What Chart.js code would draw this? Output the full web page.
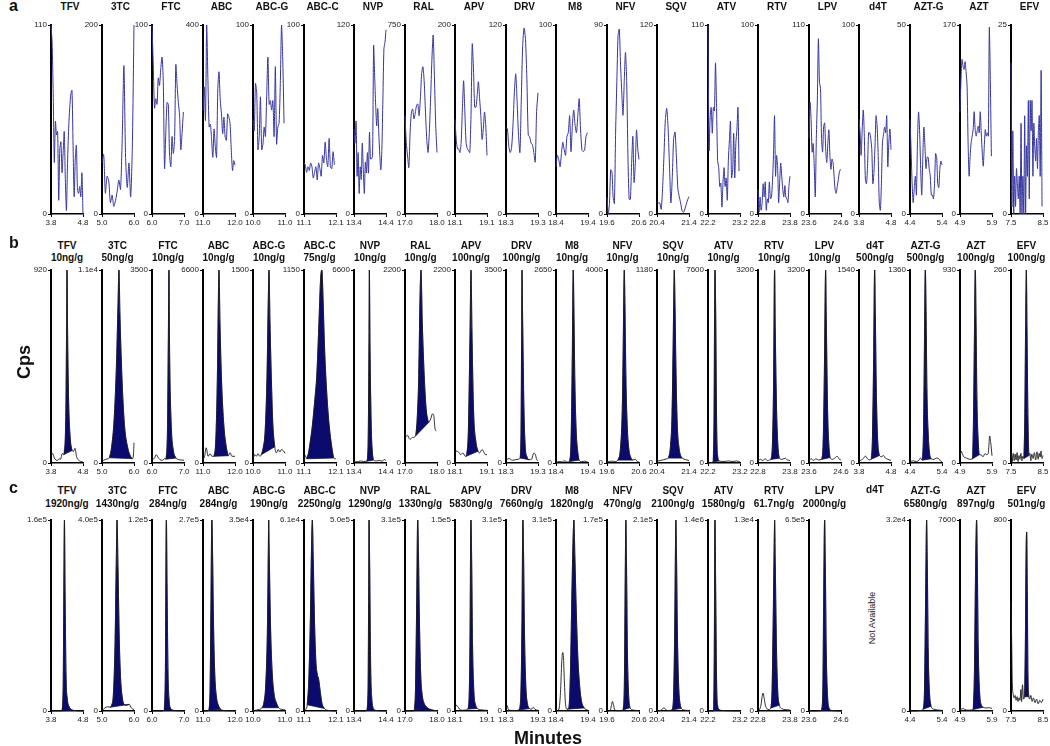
<!DOCTYPE html>
<html>
<head>
<meta charset="utf-8">
<script src="https://cdn.jsdelivr.net/npm/chart.js@4.4.1/dist/chart.umd.min.js"></script>
<style>
body { margin: 0; background: #fff; }
#fig { position: relative; width: 1050px; height: 746px; overflow: hidden; font-family: 'Liberation Sans', Arial, sans-serif; color: #111; }
#fig canvas { position: absolute; }
.tit { position: absolute; font-weight: bold; font-size: 10px; line-height: 12px; text-align: center; white-space: nowrap; transform: translateX(-50%); }
.letra { position: absolute; font-weight: bold; font-size: 16px; }
.eixo { position: absolute; font-weight: bold; font-size: 18px; white-space: nowrap; }
.na { position: absolute; font-size: 9px; white-space: nowrap; color: #222; transform: translate(-50%, -50%) rotate(-90deg); }
</style>
</head>
<body>
<div id="fig"></div>
<script>
// ------------ Dados ------------ //

var compostos = ['TFV', '3TC', 'FTC', 'ABC', 'ABC-G', 'ABC-C', 'NVP', 'RAL', 'APV', 'DRV',
                 'M8', 'NFV', 'SQV', 'ATV', 'RTV', 'LPV', 'd4T', 'AZT-G', 'AZT', 'EFV'];
var xInicio = [3.8, 5.0, 6.0, 11.0, 10.0, 11.1, 13.4, 17.0, 18.1, 18.3,
               18.4, 19.6, 20.4, 22.2, 22.8, 23.6, 3.8, 4.4, 4.9, 7.5];

// painel a: ruido (branco)
var yMaxA = [110, 200, 100, 400, 100, 100, 120, 750, 200, 120, 100, 90, 120, 110, 100, 110, 100, 50, 170, 25];
var fimA = [4.8, 6.0, 6.98, 12.0, 10.97, 12.05, 14.4, 18.0, 19.1, 19.3, 19.38, 20.6, 21.4, 23.17, 23.8, 24.58, 4.8, 5.4, 5.88, 8.47];
var ruidoA = [
    [110,100,70,30,54,46,48,8,38,42,24,36,48,20,2,30,50,62,70,72,40,10,32,40,14,12,16,10,24,0],
    [54,63,22,40,35,12,20,8,14,24,36,26,80,157,60,28,54,18,70,200],
    [100,79,56,61,58,72,68,77,83,70,24,43,59,58,31,25,41,32,39,79,68,59,52,34,43,54],
    [219,269,198,400,283,184,190,156,120,180,142,120,262,301,241,212,170,205,163,156,212,205,191,134,92,113,103],
    [50,44,69,64,34,41,62,34,37,46,41,62,83,58,60,55,60,41,78,37,46,48,69,100,81,48],
    [27,26,22,25,23,27,25,19,22,25,18,27,24,20,31,27,38,29,25,40,25,24,33,26],
    [54,45,59,24,39,13,30,22,45,28,13,33,26,39,26,52,35,35,37,107,88,69,56,67,52,37,28,41,73,105,109,117],
    [390,284,230,184,324,404,417,377,400,430,437,390,457,557,584,524,404,297,244,324,457,610,710,540,350,244],
    [100,79,69,69,65,76,111,141,108,76,69,67,65,104,180,154,113,113,125,140,122,104,79,90,108,93,62],
    [55,54,43,39,42,56,77,89,71,50,39,73,107,118,111,86,50,49,45,44,39,33,65,77],
    [25,31,29,25,32,38,34,31,41,43,52,33,47,55,47,43,52,61,45,34,33,34,41,43],
    [8,0,5,21,20,8,5,39,63,85,88,71,58,47,63,77,63,28,7,7,24,37,15,24,40,31,26],
    [7,7,7,3,16,37,60,67,54,30,7,24,48,52,35,16,11,7,2,1,3,6,9,11],
    [110,37,56,62,47,62,60,88,62,31,27,16,18,4,18,27,16,21,8,31,43,54,21,25,47,21,41,49,62,25],
    [13,1,9,2,6,16,9,17,2,8,6,17,8,9,17,31,52,20,31,25,6,17,27,20,13,9,15,9,8,6,15,20],
    [44,65,55,36,41,28,10,44,67,102,77,73,44,36,51,53,37,30,41,49,34,26,32,30,22,14,12,16,20,24,26],
    [50,43,31,45,55,41,18,16,25,43,43,40,34,16,22,36,52,46,31,6,2,16,38,42,46,43,52,25,38,45,34],
    [25,17,8,3,7,10,5,19,27,22,12,5,15,23,18,12,15,15,12,10,5,5,4,8,16,15,8,7,12,14,13],
    [92,121,139,133,130,137,128,115,64,34,52,64,70,76,92,76,70,75,79,73,92,73,55,43,61,76,70,73,70,168,119,52],
    [20,1,11,0,5,1,6,4,2,5,0,12,0,5,0,13,0,9,5,15,2,15,11,15,5,12,9,7,10,6,11,13,5,19,1]
];

// painel b: padroes (LLOQ)
var yMaxB = [920, 11000, 3500, 6600, 1500, 1150, 6600, 2200, 2200, 3500, 2650, 4000, 1180, 7600, 3200, 3200, 1540, 1360, 930, 260];
var rotuloB = ['920', '1.1e4', '3500', '6600', '1500', '1150', '6600', '2200', '2200', '3500',
               '2650', '4000', '1180', '7600', '3200', '3200', '1540', '1360', '930', '260'];
var concB = ['10ng/g', '50ng/g', '10ng/g', '10ng/g', '10ng/g', '75ng/g', '10ng/g', '10ng/g', '100ng/g', '100ng/g',
             '10ng/g', '10ng/g', '10ng/g', '10ng/g', '10ng/g', '10ng/g', '500ng/g', '500ng/g', '100ng/g', '100ng/g'];
var picosB = [
    [[3.8,35],[3.85,45],[3.9,25],[3.95,15],[4.0,12],[4.05,20],[4.1,18],[4.15,45],[4.2,40],[4.26,200],[4.29,700],[4.3,920],[4.32,600],[4.35,300],[4.4,120],[4.46,60],[4.5,55],[4.55,70],[4.6,30],[4.7,10],[4.8,5]],
    [[5.0,100],[5.1,200],[5.2,250],[5.23,300],[5.3,900],[5.38,2500],[5.45,5500],[5.5,9000],[5.53,11000],[5.56,8500],[5.62,5000],[5.7,2200],[5.8,900],[5.9,350],[5.95,250],[5.98,400],[6.0,1150]],
    [[6.0,60],[6.08,90],[6.13,150],[6.18,110],[6.25,60],[6.33,50],[6.4,80],[6.43,70],[6.48,500],[6.51,2200],[6.53,3500],[6.55,2000],[6.6,700],[6.66,250],[6.75,90],[6.85,60],[7.0,50]],
    [[11.0,120],[11.05,230],[11.1,520],[11.16,230],[11.22,320],[11.28,230],[11.34,230],[11.4,800],[11.45,3000],[11.48,5600],[11.5,6600],[11.53,4800],[11.58,2800],[11.65,1300],[11.72,600],[11.79,250],[11.85,350],[11.9,230],[12.0,230]],
    [[10.0,26],[10.05,65],[10.1,52],[10.16,73],[10.21,52],[10.26,65],[10.32,120],[10.38,250],[10.44,700],[10.48,1300],[10.5,1500],[10.53,1100],[10.58,600],[10.62,300],[10.68,126],[10.73,79],[10.79,105],[10.84,85],[10.89,105],[10.95,95],[11.0,75]],
    [[11.1,20],[11.14,45],[11.18,25],[11.24,60],[11.29,120],[11.36,220],[11.44,380],[11.5,523],[11.56,800],[11.62,1100],[11.66,1150],[11.7,950],[11.74,700],[11.78,523],[11.86,280],[11.95,120],[12.03,30],[12.1,25]],
    [[13.4,60],[13.5,40],[13.6,70],[13.7,50],[13.8,60],[13.84,600],[13.87,4500],[13.88,6600],[13.9,4000],[13.94,1200],[13.98,300],[14.01,100],[14.1,70],[14.2,90],[14.28,60],[14.35,120],[14.4,80]],
    [[17.0,290],[17.08,316],[17.15,270],[17.23,290],[17.33,308],[17.38,500],[17.43,1000],[17.47,1900],[17.5,2200],[17.54,1600],[17.6,1000],[17.66,620],[17.74,462],[17.8,500],[17.86,560],[17.9,540],[17.94,385],[17.98,366]],
    [[18.1,115],[18.15,135],[18.21,125],[18.28,96],[18.35,115],[18.42,77],[18.45,77],[18.52,400],[18.57,1500],[18.6,2200],[18.63,1500],[18.68,600],[18.75,250],[18.82,135],[18.87,115],[18.95,154],[19.0,125],[19.05,96],[19.1,96]],
    [[18.3,60],[18.4,80],[18.5,50],[18.6,60],[18.7,70],[18.74,90],[18.77,600],[18.79,2500],[18.8,3500],[18.82,2600],[18.86,1000],[18.9,300],[18.95,120],[19.02,60],[19.1,70],[19.17,180],[19.22,150],[19.26,60],[19.3,40]],
    [[18.4,10],[18.5,20],[18.6,15],[18.65,30],[18.7,25],[18.76,15],[18.82,20],[18.87,300],[18.91,1500],[18.93,2500],[18.94,2650],[18.96,2100],[18.99,1100],[19.03,450],[19.08,150],[19.12,40],[19.2,20],[19.3,25],[19.4,10]],
    [[19.6,20],[19.75,40],[19.85,30],[19.94,60],[20.02,300],[20.08,1200],[20.11,2600],[20.13,3800],[20.14,4000],[20.16,3300],[20.19,1800],[20.23,800],[20.28,300],[20.34,120],[20.4,60],[20.48,80],[20.55,30],[20.6,20]],
    [[20.4,10],[20.5,15],[20.6,20],[20.7,25],[20.75,30],[20.82,100],[20.87,300],[20.91,800],[20.93,1100],[20.94,1180],[20.96,1000],[20.99,600],[21.03,250],[21.09,90],[21.15,40],[21.19,30],[21.3,20],[21.4,15]],
    [[22.2,0],[22.3,20],[22.36,40],[22.39,2000],[22.41,7000],[22.42,7600],[22.44,6000],[22.47,1500],[22.5,300],[22.55,80],[22.7,60],[22.85,80],[22.95,60],[23.1,80],[23.2,40]],
    [[22.8,40],[22.88,60],[22.95,40],[23.02,70],[23.1,40],[23.16,50],[23.2,60],[23.25,300],[23.29,1500],[23.31,3000],[23.32,3200],[23.34,2200],[23.38,900],[23.42,300],[23.47,80],[23.55,60],[23.65,80],[23.72,50],[23.8,40]],
    [[23.6,40],[23.66,70],[23.74,45],[23.82,70],[23.9,50],[23.99,60],[24.04,300],[24.08,1500],[24.11,3000],[24.12,3200],[24.14,2400],[24.18,900],[24.22,300],[24.26,90],[24.33,60],[24.4,80],[24.48,110],[24.55,60],[24.6,50]],
    [[3.8,15],[3.88,25],[3.95,40],[4.0,55],[4.06,35],[4.12,25],[4.18,30],[4.22,200],[4.26,900],[4.28,1450],[4.29,1540],[4.31,1200],[4.34,600],[4.38,200],[4.44,60],[4.5,50],[4.56,60],[4.62,40],[4.7,30],[4.8,20]],
    [[4.4,10],[4.5,15],[4.6,10],[4.68,20],[4.73,35],[4.78,20],[4.82,200],[4.85,800],[4.87,1300],[4.88,1360],[4.9,1100],[4.93,500],[4.97,200],[5.01,70],[5.06,30],[5.15,25],[5.22,35],[5.3,30],[5.35,15],[5.4,10]],
    [[4.9,35],[4.94,57],[4.97,45],[5.02,30],[5.1,24],[5.2,18],[5.29,20],[5.32,200],[5.35,600],[5.37,900],[5.38,930],[5.4,700],[5.43,300],[5.47,100],[5.5,40],[5.56,39],[5.62,30],[5.68,45],[5.73,40],[5.78,45],[5.83,130],[5.86,98],[5.9,35]],
    [[7.5,5],[7.52,12],[7.54,2],[7.57,13],[7.6,3],[7.63,12],[7.66,4],[7.69,14],[7.72,2],[7.75,10],[7.78,5],[7.81,13],[7.84,3],[7.87,9],[7.9,6],[7.93,60],[7.96,200],[7.98,260],[8.0,180],[8.03,60],[8.06,10],[8.09,13],[8.12,3],[8.15,12],[8.19,6],[8.23,14],[8.27,4],[8.31,15],[8.35,5],[8.38,13],[8.41,8],[8.44,16],[8.47,6],[8.5,10]]
];
var faixaB = [[4.2,4.46],[5.23,5.95],[6.43,6.75],[11.34,11.79],[10.26,10.68],[11.18,12.03],[13.8,14.01],[17.33,17.74],[18.45,18.82],[18.74,19.02],
              [18.82,19.12],[19.94,20.4],[20.75,21.19],[22.36,22.55],[23.2,23.47],[23.99,24.26],[4.18,4.44],[4.78,5.06],[5.29,5.5],[7.9,8.06]];

// painel c: amostra de tecido
var yMaxC = [160000, 400000, 120000, 270000, 35000, 61000, 500000, 310000, 150000, 310000,
             310000, 170000, 210000, 1400000, 13000, 650000, null, 32000, 7600, 800];
var rotuloC = ['1.6e5', '4.0e5', '1.2e5', '2.7e5', '3.5e4', '6.1e4', '5.0e5', '3.1e5', '1.5e5', '3.1e5',
               '3.1e5', '1.7e5', '2.1e5', '1.4e6', '1.3e4', '6.5e5', '', '3.2e4', '7600', '800'];
var concC = ['1920ng/g', '1430ng/g', '284ng/g', '284ng/g', '190ng/g', '2250ng/g', '1290ng/g', '1330ng/g', '5830ng/g', '7660ng/g',
             '1820ng/g', '470ng/g', '2100ng/g', '1580ng/g', '61.7ng/g', '2000ng/g', '', '6580ng/g', '897ng/g', '501ng/g'];
var picosC = [
    [[3.8,0],[4.0,0],[4.14,200],[4.18,20000],[4.21,140000],[4.22,160000],[4.24,100000],[4.27,30000],[4.31,10000],[4.36,4000],[4.42,1500],[4.5,500],[4.8,0]],
    [[5.0,0],[5.08,6000],[5.18,9000],[5.26,8000],[5.3,12000],[5.36,40000],[5.41,150000],[5.45,330000],[5.47,400000],[5.5,300000],[5.54,150000],[5.58,70000],[5.63,30000],[5.68,15000],[5.76,12000],[5.85,14000],[5.92,6000],[6.0,3000]],
    [[6.0,0],[6.3,0],[6.38,500],[6.42,30000],[6.44,110000],[6.45,120000],[6.47,80000],[6.5,25000],[6.53,8000],[6.57,2000],[6.65,500],[7.0,0]],
    [[11.0,0],[11.15,0],[11.18,1000],[11.22,30000],[11.25,160000],[11.27,260000],[11.28,270000],[11.3,220000],[11.33,120000],[11.37,50000],[11.42,20000],[11.48,8000],[11.56,2000],[11.7,500],[12.0,0]],
    [[10.0,0],[10.1,150],[10.2,300],[10.28,600],[10.34,1500],[10.4,5000],[10.45,15000],[10.48,30000],[10.49,35000],[10.51,28000],[10.55,15000],[10.6,7000],[10.66,3000],[10.73,1500],[10.8,600],[10.9,300],[11.0,200]],
    [[11.1,0],[11.16,500],[11.2,2000],[11.25,10000],[11.3,30000],[11.34,55000],[11.36,61000],[11.39,48000],[11.43,28000],[11.47,16000],[11.51,12000],[11.56,10000],[11.61,6000],[11.66,2500],[11.74,800],[11.85,200],[12.1,0]],
    [[13.4,0],[13.75,0],[13.8,2000],[13.84,60000],[13.86,350000],[13.87,500000],[13.89,380000],[13.92,120000],[13.95,40000],[13.99,10000],[14.05,2000],[14.4,0]],
    [[17.0,0],[17.25,0],[17.29,2000],[17.33,40000],[17.37,200000],[17.39,300000],[17.4,310000],[17.42,260000],[17.45,150000],[17.49,60000],[17.54,25000],[17.6,12000],[17.68,6000],[17.77,3000],[17.9,1000],[18.0,500]],
    [[18.1,2500],[18.15,4500],[18.2,3000],[18.27,800],[18.35,600],[18.45,800],[18.5,1500],[18.54,10000],[18.57,60000],[18.59,140000],[18.6,150000],[18.62,120000],[18.65,50000],[18.69,15000],[18.74,5000],[18.8,2000],[18.9,1000],[19.1,500]],
    [[18.3,4000],[18.33,9000],[18.37,3000],[18.45,1000],[18.6,800],[18.7,1500],[18.76,20000],[18.8,150000],[18.82,290000],[18.83,310000],[18.85,250000],[18.88,120000],[18.92,40000],[18.97,12000],[19.03,4000],[19.1,3000],[19.15,6000],[19.2,3000],[19.3,1000]],
    [[18.4,0],[18.46,1000],[18.5,5000],[18.54,30000],[18.58,80000],[18.61,95000],[18.63,90000],[18.66,50000],[18.7,10000],[18.75,3000],[18.8,5000],[18.85,60000],[18.9,200000],[18.94,290000],[18.96,310000],[18.99,250000],[19.03,170000],[19.08,90000],[19.14,40000],[19.2,15000],[19.28,5000],[19.4,1000]],
    [[19.6,0],[19.7,500],[19.74,5000],[19.77,8500],[19.8,6000],[19.84,1000],[19.95,300],[20.05,300],[20.1,1000],[20.14,20000],[20.17,120000],[20.19,170000],[20.21,130000],[20.24,50000],[20.28,12000],[20.32,3000],[20.4,1000],[20.5,500],[20.6,300]],
    [[20.4,0],[20.5,500],[20.58,2500],[20.62,3700],[20.67,1500],[20.75,500],[20.86,1000],[20.91,10000],[20.95,80000],[20.98,190000],[20.99,210000],[21.01,170000],[21.04,80000],[21.08,25000],[21.12,8000],[21.16,3000],[21.25,1000],[21.4,500]],
    [[22.2,0],[22.33,0],[22.37,10000],[22.4,600000],[22.41,1300000],[22.42,1400000],[22.44,900000],[22.47,200000],[22.5,40000],[22.55,10000],[22.7,3000],[23.2,0]],
    [[22.8,50],[22.86,150],[22.9,500],[22.93,1000],[22.96,1220],[22.99,900],[23.03,400],[23.08,150],[23.14,100],[23.2,200],[23.24,1500],[23.28,7000],[23.31,12000],[23.32,13000],[23.34,10000],[23.38,4000],[23.42,1200],[23.47,400],[23.55,150],[23.65,100],[23.8,60]],
    [[23.6,0],[23.8,0],[23.95,1000],[23.99,5000],[24.03,60000],[24.06,400000],[24.08,620000],[24.09,650000],[24.11,500000],[24.14,200000],[24.18,50000],[24.22,12000],[24.27,3000],[24.35,1000],[24.6,0]],
    null,
    [[4.4,0],[4.6,0],[4.75,100],[4.81,300],[4.85,3000],[4.89,20000],[4.91,30000],[4.92,32000],[4.94,25000],[4.97,10000],[5.01,3000],[5.06,800],[5.15,300],[5.4,100]],
    [[4.9,50],[4.95,80],[5.0,100],[5.05,60],[5.15,30],[5.25,40],[5.31,60],[5.35,1500],[5.39,6000],[5.41,7400],[5.42,7600],[5.44,6000],[5.47,2500],[5.51,800],[5.56,250],[5.62,150],[5.72,120],[5.82,130],[5.9,100]],
    [[7.5,460],[7.52,300],[7.54,120],[7.57,70],[7.6,55],[7.63,65],[7.66,45],[7.69,60],[7.72,40],[7.75,55],[7.78,45],[7.81,90],[7.83,40],[7.86,110],[7.89,50],[7.92,60],[7.95,300],[7.97,650],[7.99,750],[8.01,500],[8.03,150],[8.06,60],[8.09,50],[8.12,65],[8.16,40],[8.2,55],[8.25,35],[8.3,50],[8.35,30],[8.4,45],[8.45,35],[8.5,50]]
];
var faixaC = [[4.14,4.5],[5.26,5.85],[6.38,6.65],[11.18,11.56],[10.28,10.8],[11.2,11.74],[13.8,14.05],[17.29,17.9],[18.5,18.8],[18.7,19.03],
              [18.75,19.28],[20.1,20.32],[20.86,21.16],[22.33,22.55],[23.2,23.47],[23.95,24.27],null,[4.81,5.06],[5.31,5.62],[7.92,8.06]];

// ------------ Layout ------------ //

var fig = document.getElementById('fig');
var linhas = [
    { topo: 25, base: 214, tituloY: 1 },
    { topo: 270, base: 463, tituloY: 240 },
    { topo: 520, base: 711, tituloY: 484 }
];
var fonteTick = { family: "'Liberation Sans Narrow', 'Liberation Sans', Arial, sans-serif", size: 8 };
var azul = '#0b0b6e';

function eixoX(i) { return 51 + 50.5 * i; }

function texto(cls, html, left, top) {
    var d = document.createElement('div');
    d.className = cls;
    d.innerHTML = html;
    d.style.left = left + 'px';
    d.style.top = top + 'px';
    fig.appendChild(d);
    return d;
}

function opcoes(xmin, ymax, rotulo) {
    var eixo = { drawOnChartArea: false, drawTicks: true, tickLength: 3, color: '#000', lineWidth: 1 };
    return {
        responsive: false,
        animation: false,
        events: [],
        layout: { padding: { top: 6, right: 14, left: 0, bottom: 0 } },
        plugins: { legend: { display: false }, tooltip: { enabled: false } },
        scales: {
            x: {
                type: 'linear', min: xmin, max: xmin + 1,
                afterBuildTicks: function (s) { s.ticks = [{ value: xmin }, { value: xmin + 1 }]; },
                afterFit: function (s) { s.height = 16; },
                ticks: { callback: function (v) { return v.toFixed(1); }, font: fonteTick, color: '#222', padding: 1, maxRotation: 0, autoSkip: false },
                grid: eixo,
                border: { display: true, color: '#000', width: 1.5 }
            },
            y: {
                min: 0, max: ymax,
                afterBuildTicks: function (s) { s.ticks = [{ value: 0 }, { value: ymax }]; },
                afterFit: function (s) { s.width = 40; },
                ticks: { callback: function (v) { return v === 0 ? '0' : rotulo; }, font: fonteTick, color: '#222', padding: 1, autoSkip: false },
                grid: eixo,
                border: { display: true, color: '#000', width: 2 }
            }
        }
    };
}

function novoCanvas(i, linha) {
    var c = document.createElement('canvas');
    c.width = 86;
    c.height = (linha.base - linha.topo) + 22;
    c.style.left = (eixoX(i) - 40) + 'px';
    c.style.top = (linha.topo - 6) + 'px';
    fig.appendChild(c);
    return c;
}

function pontos(lista) {
    return lista.map(function (p) { return { x: p[0], y: p[1] }; });
}

// ------------ Painel a ------------ //

function painelA(i) {
    var n = ruidoA[i].length;
    var passo = (fimA[i] - xInicio[i]) / (n - 1);
    var dados = ruidoA[i].map(function (v, k) { return { x: xInicio[i] + k * passo, y: v }; });
    new Chart(novoCanvas(i, linhas[0]), {
        type: 'line',
        data: { datasets: [{ data: dados, borderColor: '#3535a0', borderWidth: 1, pointRadius: 0, tension: 0.25, clip: 4 }] },
        options: opcoes(xInicio[i], yMaxA[i], String(yMaxA[i]))
    });
    texto('tit', compostos[i], eixoX(i) + 19, linhas[0].tituloY);
}

// ------------ Paineis b e c ------------ //

function painelPico(i, linha, traco, faixa, ymax, rotulo) {
    var pico = traco.filter(function (p) { return p[0] >= faixa[0] - 1e-9 && p[0] <= faixa[1] + 1e-9; });
    var linhaBase = [pico[0], pico[pico.length - 1]];
    new Chart(novoCanvas(i, linha), {
        type: 'line',
        data: {
            datasets: [
                { data: pontos(traco), borderColor: '#1a1a1a', borderWidth: 0.9, pointRadius: 0, cubicInterpolationMode: 'monotone', fill: false, clip: 4 },
                { data: pontos(pico), borderColor: azul, borderWidth: 0.5, pointRadius: 0, cubicInterpolationMode: 'monotone', fill: '+1', backgroundColor: azul, clip: 4 },
                { data: pontos(linhaBase), borderColor: azul, borderWidth: 0.8, pointRadius: 0, fill: false, clip: 4 }
            ]
        },
        options: opcoes(xInicio[i], ymax, rotulo)
    });
}

for (var i = 0; i < compostos.length; i++) {
    painelA(i);

    painelPico(i, linhas[1], picosB[i], faixaB[i], yMaxB[i], rotuloB[i]);
    texto('tit', compostos[i] + '<br>' + concB[i], eixoX(i) + 16, linhas[1].tituloY);

    if (picosC[i]) {
        painelPico(i, linhas[2], picosC[i], faixaC[i], yMaxC[i], rotuloC[i]);
        var t = texto('tit', compostos[i] + '<br>' + concC[i], eixoX(i) + 16, linhas[2].tituloY);
        t.style.lineHeight = '13px';
    } else {
        texto('tit', compostos[i], eixoX(i) + 16, linhas[2].tituloY);
        texto('na', 'Not Available', eixoX(i) + 13, 618);
    }
}

// ------------ Rotulos gerais ------------ //

texto('letra', 'a', 9, -3);
texto('letra', 'b', 9, 234);
texto('letra', 'c', 9, 479);
var cps = texto('eixo', 'Cps', 24, 362);
cps.style.transform = 'translate(-50%, -50%) rotate(-90deg)';
var minutos = texto('eixo', 'Minutes', 548, 738);
minutos.style.transform = 'translate(-50%, -50%)';
</script>
</body>
</html>
